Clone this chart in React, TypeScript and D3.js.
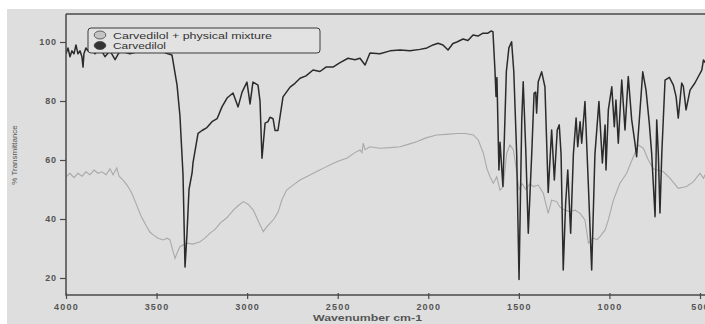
import React, { useEffect, useRef } from "react";
import * as d3 from "d3";

const xTicks = [4000, 3500, 3000, 2500, 2000, 1500, 1000, 500];
const yTicks = [20, 40, 60, 80, 100];
const seriesNames = ["Carvedilol + physical mixture", "Carvedilol"];

const carvWn = [4000, 3989, 3978, 3967, 3956, 3945, 3934, 3923, 3912, 3906, 3901, 3890, 3879, 3868, 3840, 3812, 3785, 3757, 3729, 3702, 3647, 3591, 3536, 3481, 3437, 3415, 3387, 3371, 3354, 3343, 3332, 3321, 3304, 3299, 3271, 3249, 3222, 3194, 3166, 3139, 3111, 3078, 3050, 3028, 3001, 2984, 2968, 2940, 2929, 2918, 2901, 2885, 2874, 2857, 2846, 2830, 2802, 2763, 2736, 2708, 2675, 2636, 2598, 2565, 2526, 2487, 2443, 2405, 2377, 2349, 2322, 2267, 2211, 2156, 2101, 2046, 2007, 1974, 1946, 1919, 1891, 1864, 1842, 1808, 1781, 1753, 1726, 1698, 1671, 1654, 1643, 1632, 1626, 1621, 1610, 1604, 1588, 1569, 1555, 1540, 1528, 1512, 1499, 1484, 1476, 1461, 1448, 1429, 1416, 1407, 1402, 1393, 1374, 1356, 1338, 1319, 1304, 1288, 1277, 1267, 1255, 1242, 1230, 1214, 1199, 1184, 1175, 1162, 1153, 1135, 1116, 1098, 1080, 1058, 1039, 1024, 1019, 1006, 987, 973, 964, 951, 932, 914, 896, 877, 859, 850, 835, 816, 798, 780, 767, 748, 739, 730, 721, 711, 693, 669, 647, 632, 620, 601, 592, 577, 555, 528, 509, 490, 481, 472];
const carvT = [96, 98, 95, 97, 96, 99, 96, 97, 95, 91.5, 96, 98, 97, 99, 96, 98, 95, 97, 94, 97, 96, 97, 96.5, 97, 96, 95.6, 85.4, 75, 55, 23.7, 35, 50, 55.6, 59, 69, 70, 71, 73, 74, 78, 81, 82.7, 78, 83, 86.4, 79, 86.4, 85.4, 80, 60.6, 72.5, 73, 74.5, 74, 70, 70, 81.4, 84.7, 86, 87.7, 88.5, 90.5, 90, 91.5, 91.5, 93, 94.5, 94, 94.5, 92.2, 96.3, 96, 97, 97.3, 97, 97.5, 98, 99, 99.6, 99, 97.3, 99.5, 100, 101, 100.5, 102.4, 102, 103, 103, 103.7, 103.5, 90.5, 81.5, 88, 56.6, 66, 51, 90, 98, 100.1, 90, 62, 19.5, 73.6, 86.5, 62, 35.2, 62, 82.7, 83, 75.9, 86.5, 89.9, 84.8, 49, 70.2, 53.2, 70.2, 71.9, 62, 22.7, 45, 56.6, 35.2, 62, 74.2, 64.5, 73, 65.7, 79.8, 51, 22.7, 62, 79.8, 59, 71.9, 56.6, 77, 84.8, 71.3, 80.3, 65.7, 87.1, 70.2, 88.3, 73.6, 65.7, 61.1, 73.6, 89.9, 83.7, 72.5, 62.4, 40.8, 73.6, 62, 42, 62, 87.1, 88, 85.4, 81.5, 74.2, 86.1, 85, 77, 83.7, 86.1, 88.3, 90.5, 93.9, 93];

const mixWn = [4000, 3978, 3956, 3934, 3912, 3890, 3868, 3845, 3823, 3801, 3779, 3757, 3740, 3720, 3707, 3685, 3663, 3637, 3625, 3610, 3586, 3554, 3536, 3518, 3492, 3463, 3442, 3426, 3409, 3398, 3387, 3371, 3334, 3299, 3260, 3233, 3205, 3177, 3150, 3111, 3076, 3050, 3021, 2995, 2966, 2940, 2911, 2896, 2874, 2852, 2828, 2808, 2782, 2747, 2708, 2664, 2616, 2570, 2524, 2487, 2450, 2405, 2377, 2366, 2359, 2349, 2322, 2267, 2211, 2156, 2112, 2064, 2013, 1954, 1902, 1843, 1797, 1751, 1724, 1696, 1676, 1659, 1641, 1622, 1604, 1586, 1567, 1549, 1530, 1512, 1499, 1483, 1461, 1439, 1420, 1393, 1365, 1338, 1319, 1291, 1273, 1245, 1218, 1190, 1162, 1135, 1116, 1089, 1068, 1052, 1024, 1006, 978, 942, 905, 868, 840, 813, 785, 758, 732, 703, 665, 620, 574, 537, 500, 481, 472];
const mixT = [54.3, 55.5, 54, 55.5, 54.5, 56, 55, 56.6, 55.5, 56, 55, 57, 55, 57.3, 54.5, 53.2, 51.5, 48.8, 47, 44.7, 41, 37.4, 35.5, 34.6, 33.5, 32.9, 33.5, 32.9, 29, 26.7, 28.5, 30.6, 31.8, 31.5, 32.3, 33.5, 35.2, 36.5, 38.5, 40.5, 43, 44.5, 45.9, 45, 43, 39.5, 35.7, 37, 38.5, 40, 42.5, 46.5, 49.8, 51.5, 53.2, 54.6, 56.1, 57.5, 58.9, 59.8, 60.6, 62.5, 63.4, 62.5, 65.7, 63.5, 64.5, 64, 64.2, 64.5, 65.3, 66.2, 67.5, 68.5, 68.7, 69, 69, 68.5, 66.8, 62.3, 57, 54.3, 52.1, 54.3, 49.8, 51, 62.3, 65.1, 63.4, 56, 50, 52, 50, 52, 51, 51.5, 48.7, 41.9, 46.4, 45.9, 44, 43, 42.5, 43, 41.9, 39.7, 31.8, 33.5, 33, 34, 36.3, 39.7, 46.4, 52.1, 55.5, 61.1, 65.1, 64, 60, 57, 56.5, 56.1, 53.8, 50.4, 51, 52.6, 55.5, 53.8, 55];

const W = 705;
const H = 324;
const L = 66, R = 740, T = 14, B = 295;

export default function App() {
  const ref = useRef<SVGSVGElement>(null);
  useEffect(() => {
    const svg = d3.select(ref.current);
    svg.selectAll("*").remove();
    const x = d3.scaleLinear().domain([4000, 500]).range([66, 700]);
    const y = d3.scaleLinear().domain([20, 100]).range([278, 42]);

    svg.append("rect").attr("x", 0).attr("y", 0).attr("width", W).attr("height", H).attr("fill", "#ffffff");
    svg.append("rect").attr("x", 7).attr("y", 9).attr("width", W - 7).attr("height", H - 9).attr("fill", "#dedede");

    const defs = svg.append("defs");
    defs.append("clipPath").attr("id", "plotclip").append("rect")
      .attr("x", L).attr("y", T).attr("width", R - L).attr("height", B - T);

    const line = d3.line<[number, number]>().x(d => x(d[0])).y(d => y(d[1]));
    const mixData: [number, number][] = mixWn.map((w, i) => [w, mixT[i]]);
    const carvData: [number, number][] = carvWn.map((w, i) => [w, carvT[i]]);

    const g = svg.append("g").attr("clip-path", "url(#plotclip)");
    g.append("path").attr("d", line(mixData)).attr("fill", "none")
      .attr("stroke", "#a9a9a9").attr("stroke-width", 1.1);
    g.append("path").attr("d", line(carvData)).attr("fill", "none")
      .attr("stroke", "#2b2b2b").attr("stroke-width", 1.5).attr("stroke-linejoin", "round");

    // frame
    svg.append("path").attr("d", `M${L},${T}H${R}M${L},${T}V${B}H${R}`)
      .attr("fill", "none").attr("stroke", "#4a4a4a").attr("stroke-width", 1.5);

    const yAxis = svg.append("g").attr("transform", `translate(${L},0)`)
      .call(d3.axisLeft(y).tickValues(yTicks).tickSize(6).tickPadding(3).tickFormat(d3.format("d")));
    yAxis.select(".domain").remove();
    yAxis.selectAll("line").attr("stroke", "#4a4a4a").attr("stroke-width", 1.2);
    yAxis.selectAll("text").attr("font-family", "Liberation Sans, Arial, sans-serif")
      .attr("font-size", 9).attr("font-weight", "bold").attr("fill", "#555")
      .attr("letter-spacing", 0.9);

    const xAxis = svg.append("g").attr("transform", `translate(0,${B})`)
      .call(d3.axisBottom(x).tickValues(xTicks).tickSize(4).tickPadding(5).tickFormat(d3.format("d")));
    xAxis.select(".domain").remove();
    xAxis.selectAll("line").attr("stroke", "#4a4a4a").attr("stroke-width", 1.2).attr("y1", -2);
    xAxis.selectAll("text").attr("font-family", "Liberation Sans, Arial, sans-serif")
      .attr("font-size", 9).attr("font-weight", "bold").attr("fill", "#555")
      .attr("letter-spacing", 1.2);

    // axis titles
    svg.append("text").attr("transform", "translate(17,155) rotate(-90)")
      .attr("text-anchor", "middle").attr("font-family", "Liberation Sans, Arial, sans-serif")
      .attr("font-size", 8).attr("fill", "#555").text("% Transmittance");
    svg.append("text").attr("x", 313).attr("y", 321)
      .attr("font-family", "Liberation Sans, Arial, sans-serif")
      .attr("font-size", 9.5).attr("font-weight", "bold").attr("fill", "#555")
      .attr("textLength", 109).attr("lengthAdjust", "spacingAndGlyphs").text("Wavenumber cm-1");

    // legend
    const lg = svg.append("g");
    lg.append("rect").attr("x", 88).attr("y", 28).attr("width", 232).attr("height", 25).attr("rx", 3)
      .attr("fill", "#e2e2e2").attr("stroke", "#3a3a3a").attr("stroke-width", 1);
    const colors = ["#c4c4c4", "#333333"];
    seriesNames.forEach((name, i) => {
      lg.append("ellipse").attr("cx", 100).attr("cy", 35 + i * 10.5).attr("rx", 5.8).attr("ry", 4)
        .attr("fill", colors[i]).attr("stroke", "#444").attr("stroke-width", 0.8);
      lg.append("text").attr("x", 113).attr("y", 38.5 + i * 10.5)
        .attr("font-family", "Liberation Sans, Arial, sans-serif").attr("font-size", 9.5)
        .attr("fill", "#333")
        .attr("textLength", i === 0 ? 159 : 53).attr("lengthAdjust", "spacingAndGlyphs")
        .text(name);
    });
  }, []);

  return (
    <svg ref={ref} width={W} height={H}
      style={{ position: "absolute", left: 0, top: 0, display: "block" }} />
  );
}
